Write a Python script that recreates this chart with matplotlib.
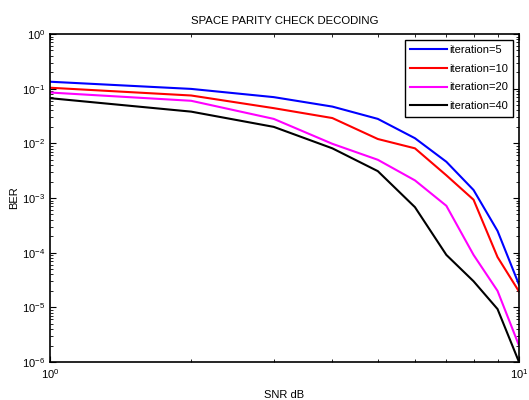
import matplotlib
matplotlib.use("Agg")
import matplotlib.pyplot as plt
from matplotlib.ticker import LogLocator, NullFormatter

plt.rcParams['font.family'] = ['Liberation Sans', 'DejaVu Sans']
plt.rcParams['mathtext.fontset'] = 'custom'
plt.rcParams['mathtext.rm'] = 'Liberation Sans'

snr = [1, 2, 3, 4, 5, 6, 7, 8, 9, 10]
ber_it5 = [0.134, 0.099, 0.070, 0.047, 0.028, 0.0124, 0.0046, 0.0014, 2.5e-4, 2.6e-5]
ber_it10 = [0.104, 0.075, 0.044, 0.029, 0.012, 0.0081, 0.0026, 9.3e-4, 8.3e-5, 1.95e-5]
ber_it20 = [0.085, 0.060, 0.028, 0.0098, 0.0050, 0.0021, 7.2e-4, 9.1e-5, 2.0e-5, 2.0e-6]
ber_it40 = [0.067, 0.038, 0.020, 0.0081, 0.0031, 6.8e-4, 9.1e-5, 3.0e-5, 9.3e-6, 1.0e-6]
labels = ['iteration=5', 'iteration=10', 'iteration=20', 'iteration=40']
colors = ['#0000ff', '#ff0000', '#ff00ff', '#000000']

fig = plt.figure(figsize=(5.29, 4.0), dpi=100)
ax = fig.add_axes([50/529, 1-362/400, 469/529, 328/400])
for y, lab, c in zip([ber_it5, ber_it10, ber_it20, ber_it40], labels, colors):
    ax.loglog(snr, y, color=c, lw=1.5, label=lab)

ax.set_xlim(1, 10)
ax.set_ylim(1e-6, 1)
ax.set_title('SPACE PARITY CHECK DECODING', fontsize=8.2, pad=7)
ax.set_xlabel('SNR dB', fontsize=8, labelpad=7)
ax.set_ylabel('BER', fontsize=8, labelpad=2)
ax.yaxis.set_major_locator(LogLocator(base=10, numticks=10))
ax.yaxis.set_minor_locator(LogLocator(base=10, subs=range(2, 10), numticks=20))
ax.yaxis.set_minor_formatter(NullFormatter())
ax.xaxis.set_minor_formatter(NullFormatter())
ax.tick_params(which='both', direction='in', top=True, right=True, labelsize=8, colors='black')
ax.tick_params(which='major', length=4, width=0.8)
ax.tick_params(which='minor', length=2.5, width=0.6)
for s in ax.spines.values():
    s.set_linewidth(1.2)

leg = ax.legend(loc='upper right', fontsize=8, fancybox=False, framealpha=1,
                edgecolor='black', handlelength=3.3, borderpad=0.5,
                labelspacing=0.78, handletextpad=0.2, borderaxespad=0.5)
leg.get_frame().set_linewidth(1.0)

fig.savefig('out.png', dpi=100)
